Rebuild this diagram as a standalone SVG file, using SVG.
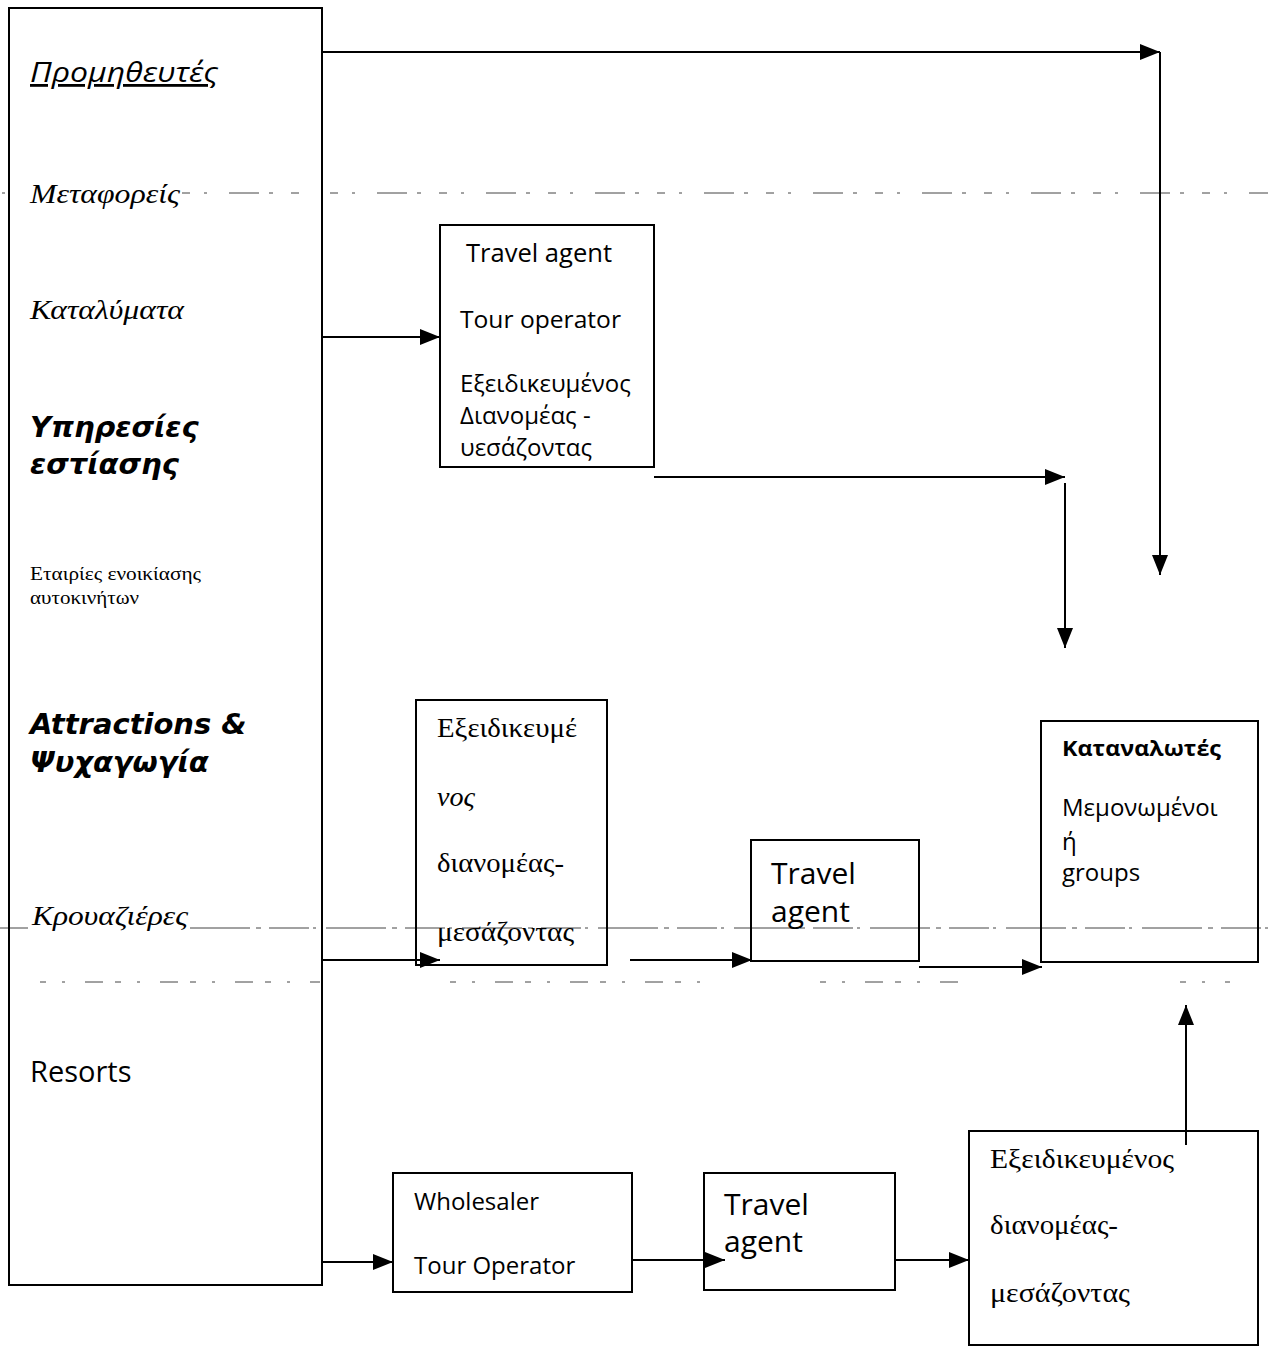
<svg xmlns="http://www.w3.org/2000/svg" width="1268" height="1351" viewBox="0 0 1268 1351">
<style>
.box{fill:none;stroke:#000;stroke-width:2}
.conn{fill:none;stroke:#000;stroke-width:2}
.guide{fill:none;stroke:#444;stroke-width:1}
.ser{font-family:"Liberation Serif","DejaVu Serif",serif;fill:#000}
.serit{font-family:"Liberation Serif","DejaVu Serif",serif;font-style:italic;fill:#000}
.sans{font-family:"Open Sans","Noto Sans","Liberation Sans",sans-serif;fill:#000}
.bi{font-family:"DejaVu Sans","Liberation Sans",sans-serif;font-weight:bold;font-style:italic;fill:#000}
</style>
<defs>
<marker id="ah" markerUnits="userSpaceOnUse" markerWidth="20" markerHeight="16" refX="20" refY="8" orient="auto">
<path d="M0,0 L20,8 L0,16 z" fill="#000"/>
</marker>
</defs>
<rect width="1268" height="1351" fill="#fff"/>

<g id="guides">
<path class="guide" d="M2,193 H5 M182,193 H312 M330,193 H1268" stroke-dasharray="8 14 3 22 30 10 4 18"/>
<path class="guide" d="M0,928 H28 M190,928 H1268" stroke-dasharray="60 6 5 8 40 4 3 10"/>
<path class="guide" d="M40,982 H320 M450,982 H700 M820,982 H970 M1180,982 H1230" stroke-dasharray="6 16 3 20 18 12" stroke-width="1.5"/>
</g>

<g id="suppliers">
<rect class="box" x="9" y="8" width="313" height="1277"/>
<text class="sans" x="30" y="82" font-size="28" font-style="italic" text-decoration="underline" textLength="188" lengthAdjust="spacingAndGlyphs">Προμηθευτές</text>
<text class="serit" x="30" y="203" font-size="28" textLength="150" lengthAdjust="spacingAndGlyphs">Μεταφορείς</text>
<text class="serit" x="30" y="319" font-size="28" textLength="154" lengthAdjust="spacingAndGlyphs">Καταλύματα</text>
<text class="bi" x="30" y="437" font-size="29">Υπηρεσίες</text>
<text class="bi" x="30" y="474" font-size="29">εστίασης</text>
<text class="ser" x="30" y="580" font-size="19" textLength="171" lengthAdjust="spacingAndGlyphs">Εταιρίες ενοικίασης</text>
<text class="ser" x="30" y="604" font-size="19" textLength="109" lengthAdjust="spacingAndGlyphs">αυτοκινήτων</text>
<text class="bi" x="30" y="734" font-size="29">Attractions &amp;</text>
<text class="bi" x="30" y="772" font-size="29">Ψυχαγωγία</text>
<text class="serit" x="32" y="925" font-size="28" textLength="156" lengthAdjust="spacingAndGlyphs">Κρουαζιέρες</text>
<text class="sans" x="30" y="1082" font-size="29">Resorts</text>
</g>

<g id="intermediary1">
<rect class="box" x="440" y="225" width="214" height="242"/>
<text class="sans" x="466" y="262" font-size="25" textLength="146" lengthAdjust="spacingAndGlyphs">Travel agent</text>
<text class="sans" x="460" y="328" font-size="24" textLength="161" lengthAdjust="spacingAndGlyphs">Tour operator</text>
<text class="sans" x="460" y="392" font-size="24">Εξειδικευμένος</text>
<text class="sans" x="460" y="424" font-size="24">Διανομέας -</text>
<text class="sans" x="460" y="456" font-size="24">υεσάζοντας</text>
</g>

<g id="specialist1">
<rect class="box" x="416" y="700" width="191" height="265"/>
<text class="ser" x="437" y="737" font-size="27" textLength="140" lengthAdjust="spacingAndGlyphs">Εξειδικευμέ</text>
<text class="serit" x="437" y="806" font-size="27" textLength="38" lengthAdjust="spacingAndGlyphs">νος</text>
<text class="ser" x="437" y="872" font-size="27" textLength="127" lengthAdjust="spacingAndGlyphs">διανομέας-</text>
<text class="ser" x="437" y="941" font-size="27" textLength="137" lengthAdjust="spacingAndGlyphs">μεσάζοντας</text>
</g>

<g id="travelagent2">
<rect class="box" x="751" y="840" width="168" height="121"/>
<text class="sans" x="771" y="884" font-size="30">Travel</text>
<text class="sans" x="771" y="922" font-size="30">agent</text>
</g>

<g id="consumers">
<rect class="box" x="1041" y="721" width="217" height="241"/>
<text class="sans" x="1062" y="756" font-size="22" font-weight="bold" textLength="159" lengthAdjust="spacingAndGlyphs">Καταναλωτές</text>
<text class="sans" x="1062" y="816" font-size="24">Μεμονωμένοι</text>
<text class="sans" x="1062" y="850" font-size="24">ή</text>
<text class="sans" x="1062" y="881" font-size="24">groups</text>
</g>

<g id="wholesaler">
<rect class="box" x="393" y="1173" width="239" height="119"/>
<text class="sans" x="414" y="1210" font-size="24">Wholesaler</text>
<text class="sans" x="414" y="1274" font-size="24">Tour Operator</text>
</g>

<g id="travelagent3">
<rect class="box" x="704" y="1173" width="191" height="117"/>
<text class="sans" x="724" y="1215" font-size="30">Travel</text>
<text class="sans" x="724" y="1252" font-size="30">agent</text>
</g>

<g id="specialist3">
<rect class="box" x="969" y="1131" width="289" height="214"/>
<text class="ser" x="990" y="1168" font-size="27" textLength="184" lengthAdjust="spacingAndGlyphs">Εξειδικευμένος</text>
<text class="ser" x="990" y="1234" font-size="27" textLength="128" lengthAdjust="spacingAndGlyphs">διανομέας-</text>
<text class="ser" x="990" y="1302" font-size="27" textLength="140" lengthAdjust="spacingAndGlyphs">μεσάζοντας</text>
</g>

<g id="connectors">
<path class="conn" d="M322,52 H1160" marker-end="url(#ah)"/>
<path class="conn" d="M1160,52 V575" marker-end="url(#ah)"/>
<path class="conn" d="M322,337 H440" marker-end="url(#ah)"/>
<path class="conn" d="M654,477 H1065" marker-end="url(#ah)"/>
<path class="conn" d="M1065,483 V648" marker-end="url(#ah)"/>
<path class="conn" d="M322,960 H440" marker-end="url(#ah)"/>
<path class="conn" d="M630,960 H752" marker-end="url(#ah)"/>
<path class="conn" d="M919,967 H1042" marker-end="url(#ah)"/>
<path class="conn" d="M1186,1145 V1005" marker-end="url(#ah)"/>
<path class="conn" d="M322,1262 H393" marker-end="url(#ah)"/>
<path class="conn" d="M632,1260 H725" marker-end="url(#ah)"/>
<path class="conn" d="M895,1260 H969" marker-end="url(#ah)"/>
</g>
</svg>
